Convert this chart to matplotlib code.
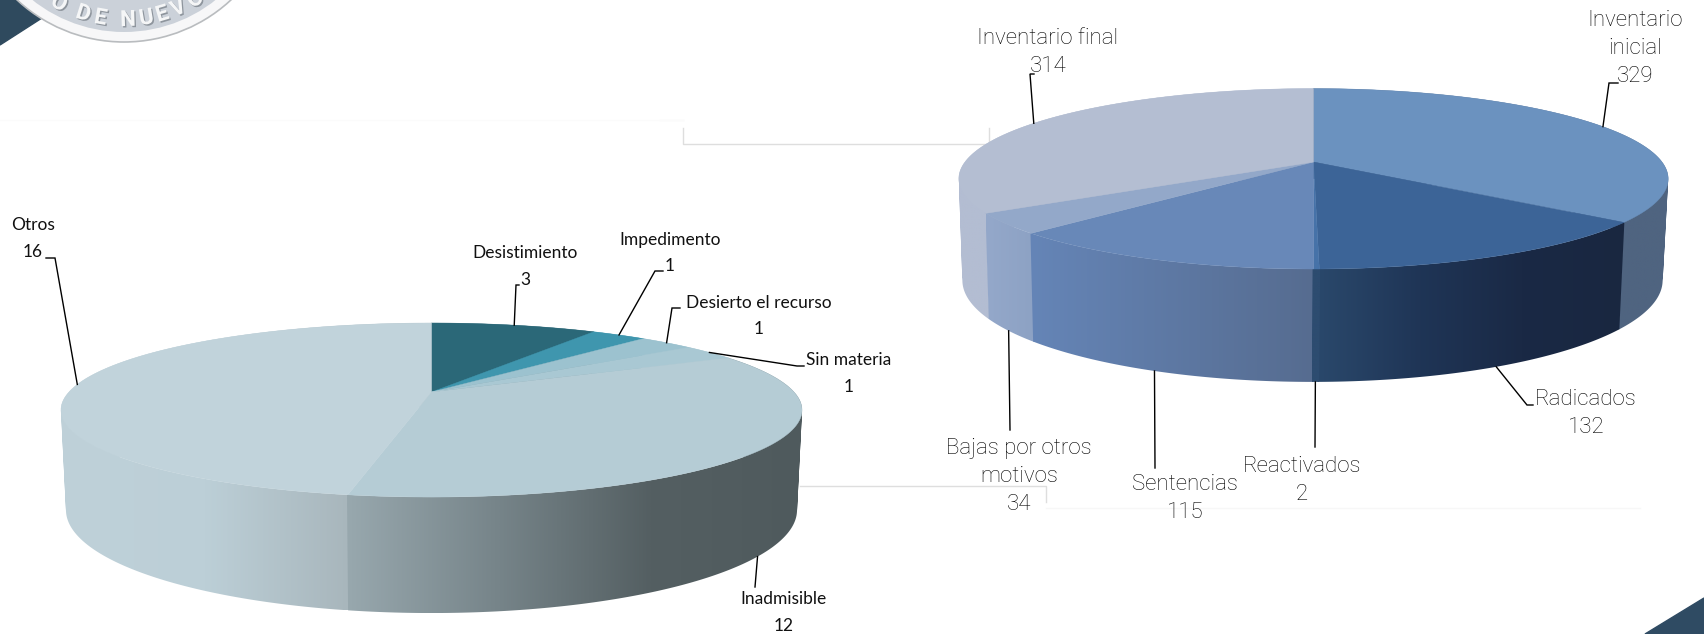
import numpy as np
import matplotlib
matplotlib.use('Agg')
import matplotlib.pyplot as plt
import matplotlib.patheffects as pe
from matplotlib.colors import LinearSegmentedColormap
from matplotlib.patches import Circle, PathPatch, Polygon
from matplotlib.path import Path

#####################################################################################################################
# data

left_labels = ['Desistimiento', 'Impedimento', 'Desierto el recurso', 'Sin materia', 'Inadmisible', 'Otros']
left_values = [3, 1, 1, 1, 12, 16]

right_labels = ['Inventario\ninicial', 'Radicados', 'Reactivados', 'Sentencias', 'Bajas por otros\nmotivos', 'Inventario final']
right_values = [329, 132, 2, 115, 34, 314]

#####################################################################################################################
# styles

left_top_colors = ['#2b6878', '#3f96ae', '#9cc2cf', '#a9c8d3', '#b5ccd5', '#c1d3db']
left_side_colors = [('#2b6878', '#2b6878'), ('#3f96ae', '#3f96ae'), ('#9cc2cf', '#9cc2cf'), ('#a9c8d3', '#a9c8d3'),
                    ('#98a8ae', '#768489', '#545f62', '#4f5a5d'), ('#bfd1d9', '#bccfd7', '#a8b6bc')]

right_top_colors = ['#6b92bf', '#3c6497', '#4672a8', '#6888b8', '#93a8c9', '#b4bed2']
right_side_colors = [('#4f6480', '#4f6480'), ('#2a486b', '#1f3556', '#1a2945', '#192740'), ('#2d4c70', '#2d4c70'),
                     ('#6585b7', '#566c90'), ('#94a8ca', '#8da2c4'), ('#b3bdd2', '#b3bdd2')]

# top rim / bottom rim of each pie: centre x, apex y, half width, half depth, perspective
left_top_rim = (431.5, 392, 362.5, 83.3, 0.207)
left_bottom_rim = (431.5, 488.7, 357.6, 98.6, 0.207)
right_top_rim = (1313.5, 162, 348.5, 87.1, 0.186)
right_bottom_rim = (1312.5, 261.5, 344, 98, 0.186)

# label centre (first line), then the leader points going out from the rim
left_label_pos = [(525, 245.5), (670, 231.5), (759, 294.5), (849, 352), (784, 591.5), (33, 217.5)]
left_leaders = [[(516, 285), (519, 285)], [(655, 271), (663, 271)], [(672, 308), (680, 308)],
                [(797, 366), (804, 366)], [(755, 587)], [(55, 258), (46, 258)]]

right_label_pos = [(1635, 10.5), (1586, 389), (1302, 456), (1185, 474), (1019, 438), (1048, 28.5)]
right_leaders = [[(1609, 83), (1618, 83)], [(1527, 405), (1533, 405)], [(1315, 447)],
                 [(1155, 468)], [(1010, 430)], [(1030, 74), (1034, 74)]]

#####################################################################################################################

def rim_xy(deg, rim):
    # angle clockwise from the top of the pie, seen with a perspective tilt
    cx, cy, a, b, k = rim
    u, v = np.sin(np.radians(deg)), np.cos(np.radians(deg))
    return cx + a * u / (1 + k * v), cy - b * v / (1 + k * v)


def draw_side(ax, a0, a1, top_rim, bottom_rim, colors, zorder):
    # thin quads all turning the same way, one single polygon would cross itself at the edges of the pie
    # a small overlap between slices hides the white seam
    deg = np.linspace(a0 - 0.12, a1 + 0.12, max(int((a1 - a0) * 2), 2))
    tx, ty = rim_xy(deg, top_rim)
    bx, by = rim_xy(deg, bottom_rim)
    quads = []
    for i in range(len(deg) - 1):
        q = np.array([(tx[i], ty[i]), (tx[i + 1], ty[i + 1]), (bx[i + 1], by[i + 1]), (bx[i], by[i])])
        area = np.sum(q[:, 0] * np.roll(q[:, 1], -1) - np.roll(q[:, 0], -1) * q[:, 1])
        if area < 0:
            q = q[::-1]
        quads.append(Path(np.vstack([q, q[0]]), closed=True))
    patch = PathPatch(Path.make_compound_path(*quads), facecolor='none', edgecolor='none')
    ax.add_patch(patch)

    # the shading runs over the part of the slice that faces the viewer
    front = np.cos(np.radians(deg)) < 0
    if front.sum() < 2:
        front = np.ones_like(deg, dtype=bool)
    x0, x1 = min(tx.min(), bx.min()), max(tx.max(), bx.max())
    fx0, fx1 = tx[front].min(), tx[front].max()
    shade = np.clip((np.linspace(x0, x1, 512) - fx0) / max(fx1 - fx0, 1), 0, 1)[None, :]
    cmap = LinearSegmentedColormap.from_list('side', colors)
    ax.imshow(shade, cmap=cmap, vmin=0, vmax=1, extent=[x0, x1, max(ty.max(), by.max()), min(ty.min(), by.min())],
              aspect='auto', interpolation='bilinear', clip_path=patch, zorder=zorder)


def draw_pie(ax, values, labels, top_rim, bottom_rim, top_colors, side_colors, label_pos, leaders, font):
    edges = np.r_[0, np.cumsum(values)] / np.sum(values) * 360
    mids = (edges[:-1] + edges[1:]) / 2

    # far slices first so the near ones cover them
    for n, i in enumerate(np.argsort(np.abs(mids - 180))[::-1]):
        draw_side(ax, edges[i], edges[i + 1], top_rim, bottom_rim, side_colors[i], 2 + n * 0.01)
    for i in range(len(values)):
        deg = np.linspace(edges[i], edges[i + 1], 120)
        rx, ry = rim_xy(deg, top_rim)
        pts = np.c_[np.r_[top_rim[0], rx], np.r_[top_rim[1], ry]]
        ax.add_patch(Polygon(pts, closed=True, facecolor=top_colors[i], edgecolor=top_colors[i], linewidth=0.3, zorder=3))

    # leaders start at the middle of the slice, on the rim you can see
    for i in range(len(values)):
        rim = bottom_rim if np.cos(np.radians(mids[i])) < 0 else top_rim
        sx, sy = rim_xy(mids[i], rim)
        xs = [sx] + [p[0] for p in leaders[i]]
        ys = [sy] + [p[1] for p in leaders[i]]
        ax.plot(xs, ys, color='black', lw=1.0, solid_joinstyle='miter', zorder=5)
        x, y = label_pos[i]
        ax.text(x, y, labels[i] + '\n' + str(values[i]), ha='center', va='top', linespacing=font['spacing'],
                fontsize=font['size'], family=font['family'], fontweight=font['weight'], color=font['color'], zorder=6)


def draw_decor(ax):
    # faint connector lines behind the pies
    line = '#dedede'
    ax.plot([683, 683, 989, 989], [128, 144, 144, 128], color=line, lw=1, zorder=1)
    ax.plot([660, 683], [120, 120], color='#f6f6f6', lw=1, zorder=1)
    ax.plot([0, 683], [120, 120], color='#fbfbfb', lw=1, zorder=1)
    ax.plot([800, 1046, 1046], [486, 486, 502], color=line, lw=1, zorder=1)
    ax.plot([1046, 1640], [508, 508], color='#f7f7f7', lw=1, zorder=1)

    # corners
    ax.add_patch(Polygon([(0, 0), (20, 0), (42, 18), (0, 45)], closed=True, color='#2f4a5e', zorder=1))
    ax.add_patch(Polygon([(1645, 634), (1704, 598), (1704, 634)], closed=True, color='#2f4b63', zorder=1))

    # seal, only its lower edge is inside the picture
    ax.add_patch(Circle((124, -115), 157, facecolor='#f7f7f8', edgecolor='#b9bcbf', lw=1.2, zorder=2))
    ax.add_patch(Circle((124, -115), 147, facecolor='#cbd1d9', edgecolor='none', zorder=2))
    for ch, ang in zip('ODENUEVO', [-28.8, -17.5, -10, 1.7, 9.6, 16.5, 23.8, 32]):
        x = 124 + 135 * np.sin(np.radians(ang))
        y = -115 + 135 * np.cos(np.radians(ang))
        ax.text(x, y, ch, rotation=ang, rotation_mode='anchor', ha='center', va='center', fontsize=16, family='Roboto',
                fontweight='bold', color='#f5f6f7', zorder=3, clip_on=True,
                path_effects=[pe.withSimplePatchShadow(offset=(1, -1), shadow_rgbFace='#7f868e', alpha=0.8)])

#####################################################################################################################

fig = plt.figure(figsize=(17.04, 6.34), dpi=100)
ax = fig.add_axes([0, 0, 1, 1])

draw_decor(ax)
draw_pie(ax, left_values, left_labels, left_top_rim, left_bottom_rim, left_top_colors, left_side_colors,
         left_label_pos, left_leaders, dict(size=12.5, family='Lato', weight='normal', color='#111111', spacing=1.83))
draw_pie(ax, right_values, right_labels, right_top_rim, right_bottom_rim, right_top_colors, right_side_colors,
         right_label_pos, right_leaders, dict(size=16, family='Roboto', weight='light', color='#000000', spacing=1.43))

ax.set_xlim(0, 1704)
ax.set_ylim(634, 0)
ax.axis('off')

fig.savefig('out.png', dpi=100)
